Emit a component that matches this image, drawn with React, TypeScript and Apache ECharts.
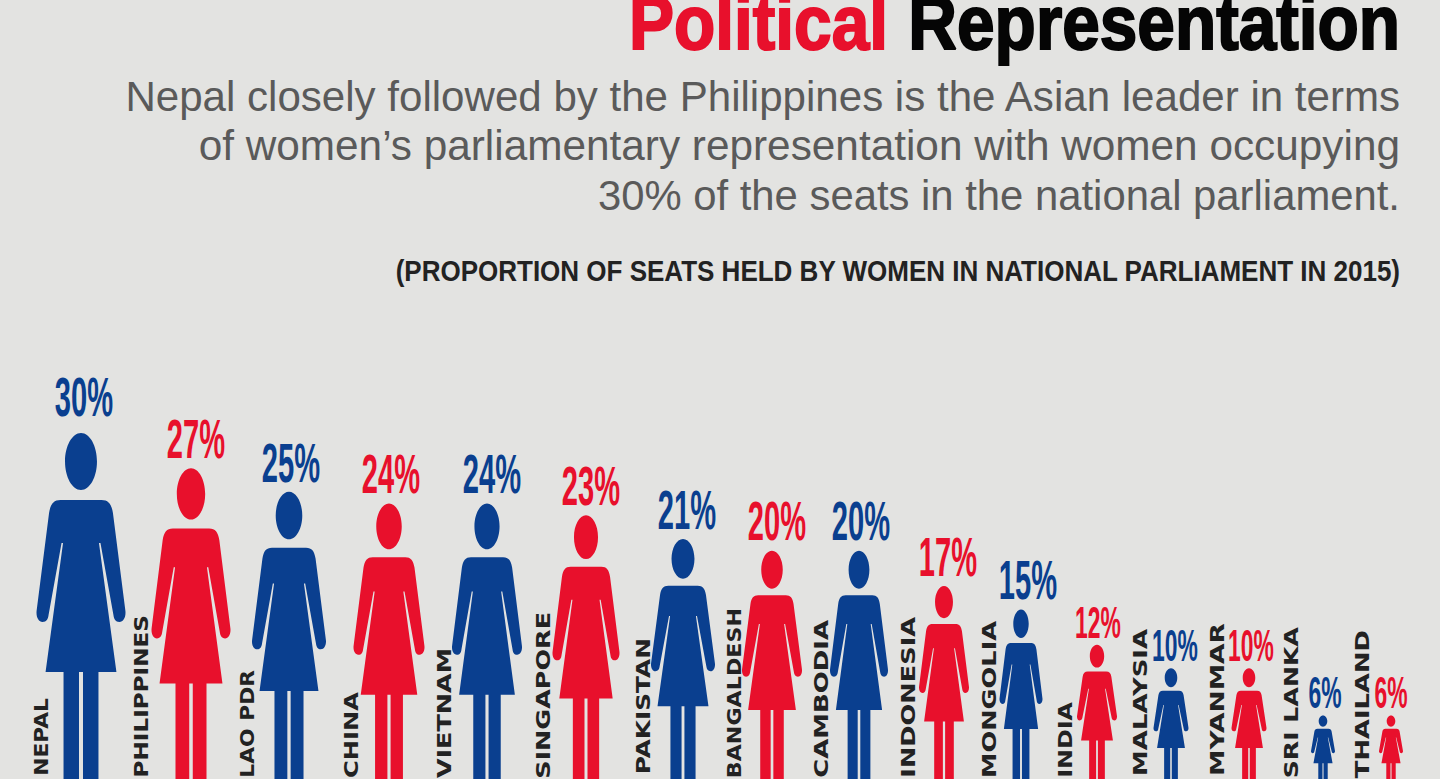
import React, { useEffect, useRef } from "react";
import * as echarts from "echarts";

const countries = ["NEPAL", "PHILIPPINES", "LAO PDR", "CHINA", "VIETNAM", "SINGAPORE", "PAKISTAN", "BANGALDESH", "CAMBODIA", "INDONESIA", "MONGOLIA", "INDIA", "MALAYSIA", "MYANMAR", "SRI LANKA", "THAILAND"];
const seatShare = [30, 27, 25, 24, 24, 23, 21, 20, 20, 17, 15, 12, 10, 10, 6, 6];
const figureColors = ["blue", "red", "blue", "red", "blue", "red", "blue", "red", "blue", "red", "blue", "red", "blue", "red", "blue", "red"];

// layout of the hand-placed infographic, kept apart from the data
const figureCentres = [81, 191, 289, 389, 487, 586, 683, 772, 859, 944, 1021, 1097, 1171, 1249, 1323, 1391];
const figureWidths = [89, 79, 74, 71, 70, 67, 64, 60, 58, 50, 43, 40, 35, 35, 24, 24];
const valueCentres = [84, 196, 291, 391, 492, 591, 687, 777, 861, 948, 1028, 1098, 1175, 1251, 1325, 1391];
const nameCentres = [41, 141, 247, 351, 444, 543, 643, 734, 821, 908, 989, 1065, 1140, 1217, 1291, 1362];
const nameTops = [698, 615, 670, 692, 648, 612, 638, 608, 620, 617, 621, 702, 629, 623, 627, 630];
const nameStretch = [1.09, 1.156, 1.09, 1.21, 1.27, 1.27, 1.24, 1.11, 1.295, 1.28, 1.28, 1.19, 1.295, 1.325, 1.26, 1.29];

const titleRed = "Political";
const titleBlack = "Representation";
const bodyLines = [
  "Nepal closely followed by the Philippines is the Asian leader in terms",
  "of women\u2019s parliamentary representation with women occupying",
  "30% of the seats in the national parliament.",
];
const bodyStretch = [1.002, 1.008, 0.996];
const caption = "(PROPORTION OF SEATS HELD BY WOMEN IN NATIONAL PARLIAMENT IN 2015)";

const BLUE = "#0a3f8f";
const RED = "#e8102c";
const WOMAN =
  "M44.5 0C53.3 0 60.5 12.8 60.5 28.5C60.5 44.2 53.3 57 44.5 57C35.7 57 28.5 44.2 28.5 28.5C28.5 12.8 35.7 0 44.5 0Z" +
  "M24 67L65 67C72 67 75 71 76.5 80L89 178C89.6 184 87 189 83 189C79 189 77.5 186 77 182L64 110L62.5 110L80 239L62 239L62 353L46.5 353L46.5 239L42.5 239L42.5 353L27 353L27 239L9 239L26.5 110L25 110L12 182C11.5 186 10 189 6 189C2 189 -0.6 184 0 178L12.5 80C14 71 17 67 24 67Z";

const rows = countries.map((_, i) => [figureCentres[i], seatShare[i], i]);

export default function App() {
  const ref = useRef<HTMLDivElement>(null);
  useEffect(() => {
    const chart = echarts.init(ref.current!, undefined, { renderer: "svg" });
    const txt = (text: string, x: number, y: number, font: string, fill: string, scaleX = 1, stroke?: string) => ({
      type: "text",
      x,
      y,
      scaleX,
      style: { text, font, fill, textAlign: "right", textVerticalAlign: "middle", stroke, lineWidth: stroke ? 2 : 0 },
    });
    const titleFont = "bold 76px 'Liberation Sans'";
    chart.setOption({
      animation: false,
      backgroundColor: "#e3e3e1",
      grid: { left: 0, right: 0, top: 433, height: 353, outerBoundsMode: "none" },
      xAxis: { type: "value", min: 0, max: 1440, show: false },
      yAxis: { type: "value", min: 0, max: 30, show: false },
      graphic: [
        txt(titleRed, 888, 23, titleFont, RED, 0.889, RED),
        txt(titleBlack, 1400, 23, titleFont, "#050505", 0.889, "#050505"),
        ...bodyLines.map((l, i) => txt(l, 1400, 97 + i * 49, "42px 'Liberation Sans'", "#5a5a5a", bodyStretch[i])),
        txt(caption, 1400, 271, "bold 30px 'Liberation Sans'", "#222222", 0.867),
      ],
      series: [
        {
          type: "custom",
          data: rows,
          encode: { x: 0, y: 1 },
          renderItem: (_p: any, api: any) => {
            const i = api.value(2);
            const v = api.value(1);
            const [cx, top] = api.coord([api.value(0), v]);
            const [, base] = api.coord([api.value(0), 0]);
            const w = figureWidths[i];
            const fill = figureColors[i] === "blue" ? BLUE : RED;
            const big = v >= 15;
            const size = big ? 56 : 44;
            const gap = v >= 30 ? 16 : big ? 9.5 : 7;
            return {
              type: "group",
              children: [
                {
                  type: "path",
                  shape: { pathData: WOMAN, x: cx - w / 2, y: top, width: w, height: base - top, layout: "cover" },
                  style: { fill },
                },
                {
                  type: "text",
                  x: valueCentres[i],
                  y: top - gap - size * 0.36,
                  scaleX: 0.52,
                  style: {
                    text: v + "%",
                    font: `bold ${size}px 'Liberation Sans'`,
                    fill,
                    textAlign: "center",
                    textVerticalAlign: "middle",
                  },
                },
                {
                  type: "text",
                  x: nameCentres[i],
                  y: nameTops[i],
                  rotation: Math.PI / 2,
                  scaleX: nameStretch[i],
                  style: {
                    text: countries[i],
                    font: "bold 20px 'DejaVu Sans'",
                    fill: "#222222",
                    textAlign: "right",
                    textVerticalAlign: "middle",
                  },
                },
              ],
            };
          },
        },
      ],
    });
    return () => chart.dispose();
  }, []);
  return <div ref={ref} style={{ position: "fixed", left: 0, top: 0, width: 1440, height: 779 }} />;
}
